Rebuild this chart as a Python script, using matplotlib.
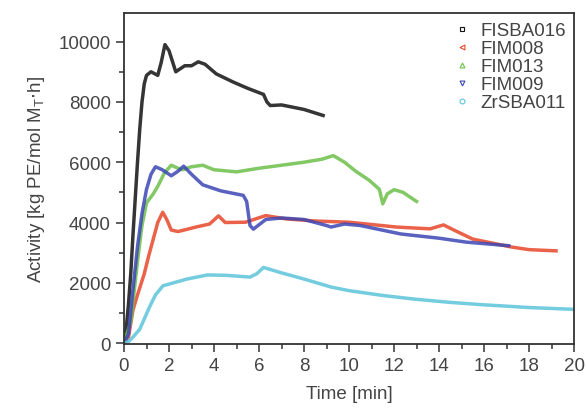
import matplotlib
matplotlib.use('Agg')
import matplotlib.pyplot as plt
from matplotlib.lines import Line2D
from matplotlib.ticker import MultipleLocator

plt.rcParams['font.family'] = ['Liberation Sans', 'DejaVu Sans']

# FISBA016
t_fisba = [0, 0.1, 0.2, 0.3, 0.4, 0.5, 0.6, 0.7, 0.8, 0.9, 1.0, 1.2, 1.5, 1.65, 1.82, 2.0, 2.3, 2.7, 3.0,
           3.3, 3.6, 4.1, 4.85, 5.5, 6.2, 6.35, 6.5, 7.0, 8.0, 8.85]
a_fisba = [0, 500, 1300, 2300, 3600, 4800, 6000, 7100, 8000, 8600, 8880, 9000, 8880, 9300, 9900, 9700, 9000, 9200, 9200,
           9330, 9250, 8930, 8660, 8450, 8250, 8000, 7880, 7900, 7750, 7550]

# FIM008
t_fim008 = [0, 0.2, 0.4, 0.6, 0.9, 1.1, 1.3, 1.5, 1.72, 1.9, 2.1, 2.4, 3.2, 3.8, 4.2, 4.5, 5.4, 6.3, 7.2, 8.5,
            10.0, 12.1, 13.6, 14.2, 14.8, 15.5, 17.2, 18.0, 19.2]
a_fim008 = [0, 200, 1100, 1600, 2300, 2900, 3450, 4000, 4340, 4100, 3750, 3700, 3850, 3950, 4220, 4000, 4010, 4230, 4120, 4050,
            4010, 3850, 3790, 3920, 3700, 3450, 3190, 3100, 3060]

# FIM013
t_fim013 = [0, 0.3, 0.6, 0.8, 1.0, 1.3, 1.5, 1.8, 2.1, 2.4, 2.6, 3.0, 3.5, 4.0, 5.0, 6.0, 7.0, 8.0, 8.8, 9.3,
            9.8, 10.3, 10.9, 11.35, 11.5, 11.7, 12.0, 12.4, 13.0]
a_fim013 = [0, 700, 2700, 3900, 4650, 4950, 5200, 5650, 5900, 5800, 5750, 5850, 5900, 5750, 5680, 5800, 5900, 6000, 6100, 6220,
            6000, 5700, 5400, 5100, 4620, 4950, 5090, 5000, 4700]

# FIM009
t_fim009 = [0, 0.2, 0.4, 0.6, 0.8, 1.0, 1.2, 1.4, 1.7, 2.1, 2.4, 2.65, 3.0, 3.5, 4.3, 5.3, 5.45, 5.6, 5.75, 6.3,
            7.0, 8.0, 9.0, 9.2, 9.8, 10.5, 12.3, 14.0, 15.2, 17.1]
a_fim009 = [0, 300, 1800, 3200, 4300, 5100, 5600, 5850, 5750, 5550, 5700, 5870, 5600, 5250, 5050, 4900, 4700, 3900, 3780, 4100,
            4150, 4100, 3900, 3850, 3950, 3900, 3620, 3480, 3350, 3230]

# ZrSBA011
t_zrsba = [0, 0.2, 0.4, 0.7, 0.9, 1.16, 1.4, 1.73, 2.2, 2.8, 3.7, 4.5, 5.6, 5.9, 6.2, 7.0, 8.0, 9.2, 10.0, 11.5,
           12.9, 14.5, 16.0, 18.0, 20.0]
a_zrsba = [0, 50, 200, 460, 800, 1240, 1600, 1900, 2000, 2125, 2260, 2250, 2190, 2300, 2510, 2330, 2125, 1860, 1740, 1580,
           1460, 1350, 1270, 1180, 1120]

names = ['FISBA016', 'FIM008', 'FIM013', 'FIM009', 'ZrSBA011']
colors = ['#111111', '#e8472a', '#6cc04a', '#3c46b4', '#5cc3da']
markers = ['s', '<', '^', 'v', 'o']
series = [(t_fisba, a_fisba), (t_fim008, a_fim008), (t_fim013, a_fim013),
          (t_fim009, a_fim009), (t_zrsba, a_zrsba)]

fig = plt.figure(figsize=(5.86, 4.10), dpi=100)
ax = fig.add_axes([0.2116, 0.1585, 0.768, 0.8074])

for (t, a), c in zip(series, colors):
    ax.plot(t, a, color=c, lw=2.5, alpha=0.85, solid_joinstyle='round')

ax.set_xlim(0, 20)
ax.set_ylim(-30, 10950)
ax.xaxis.set_major_locator(MultipleLocator(2))
ax.xaxis.set_minor_locator(MultipleLocator(1))
ax.yaxis.set_major_locator(MultipleLocator(2000))
ax.yaxis.set_minor_locator(MultipleLocator(1000))

txt = '#444444'
for s in ax.spines.values():
    s.set_linewidth(1.3)
    s.set_color('#333333')
ax.tick_params(which='major', direction='out', length=6, width=1.1, colors='#333333',
               labelsize=13.5, labelcolor=txt)
ax.tick_params(which='minor', direction='out', length=3.5, width=1.1, colors='#333333')

ax.set_xlabel('Time [min]', fontsize=13.5, color=txt, labelpad=8)
ax.set_ylabel(r'Activity [kg PE/mol M$_\mathregular{T}$$\cdot$h]', fontsize=13.5, color=txt, labelpad=8)

handles = [Line2D([], [], linestyle='none', marker=m, markersize=3.5, markerfacecolor='none',
                  markeredgecolor=c, markeredgewidth=0.8) for m, c in zip(markers, colors)]
leg = ax.legend(handles, names, loc='upper right', frameon=False, fontsize=13.5,
                handlelength=0.8, handletextpad=0.6, labelspacing=0.05,
                borderaxespad=0.4, bbox_to_anchor=(1.016, 1.018))
for t in leg.get_texts():
    t.set_color(txt)

fig.savefig('out.png', dpi=100)
